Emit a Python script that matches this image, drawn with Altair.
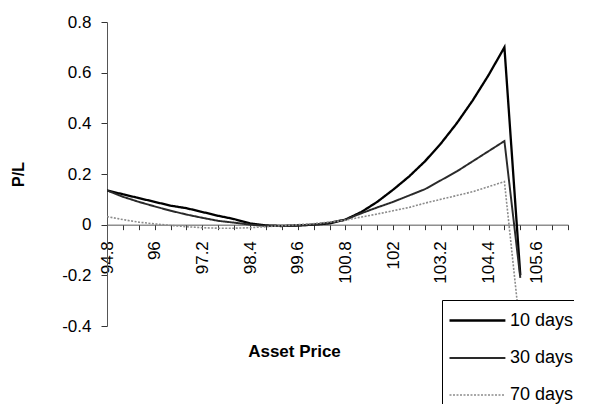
import altair as alt
import pandas as pd

prices = [94.8, 95.2, 95.6, 96.0, 96.4, 96.8, 97.2, 97.6, 98.0, 98.4, 98.8, 99.2, 99.6,
          100.0, 100.4, 100.8, 101.2, 101.6, 102.0, 102.4, 102.8, 103.2, 103.6, 104.0,
          104.4, 104.8, 105.2]

pl_10 = [0.135, 0.12, 0.105, 0.09, 0.075, 0.065, 0.05, 0.035, 0.022, 0.005, -0.003, -0.005,
         -0.003, 0.0, 0.005, 0.02, 0.05, 0.09, 0.138, 0.19, 0.25, 0.32, 0.40, 0.49, 0.59,
         0.70, -0.2]
pl_30 = [0.135, 0.11, 0.09, 0.072, 0.055, 0.04, 0.027, 0.015, 0.008, 0.0, -0.005, -0.006,
         -0.004, 0.0, 0.008, 0.02, 0.045, 0.068, 0.09, 0.115, 0.14, 0.175, 0.21, 0.25, 0.29,
         0.33, -0.21]
pl_70 = [0.032, 0.02, 0.01, 0.003, -0.003, -0.008, -0.012, -0.014, -0.014, -0.012, -0.008,
         -0.004, 0.0, 0.004, 0.01, 0.018, 0.03, 0.042, 0.055, 0.068, 0.085, 0.1, 0.115, 0.13,
         0.15, 0.17, -0.42]

series = ["10 days", "30 days", "70 days"]
x_ticks = [round(94.8 + 0.4 * i, 1) for i in range(30)]
y_ticks = [-0.4, -0.2, 0, 0.2, 0.4, 0.6, 0.8]

rows = []
for name, vals in zip(series, [pl_10, pl_30, pl_70]):
    for p, v in zip(prices, vals):
        rows.append({"price": p, "pl": v, "series": name})
df = pd.DataFrame(rows)

FONT = "Liberation Sans"

chart = alt.Chart(df).mark_line(clip=True).encode(
    x=alt.X("price:Q",
            scale=alt.Scale(domain=[94.8, 106.4], nice=False, zero=False),
            axis=alt.Axis(values=x_ticks, format=".1~f",
                          labelExpr="round(datum.value*10) % 12 == 0 ? datum.label : ''",
                          labelAngle=-90, labelOverlap=False, labelPadding=11,
                          labelFontSize=17, labelFont=FONT, labelColor="#000",
                          tickSize=5, tickColor="#333", domainColor="#555",
                          grid=False, offset=-101.33,
                          title="Asset Price", titleFont=FONT, titleFontSize=17,
                          titleFontWeight="bold", titleColor="#000",
                          titleX=187, titleY=127, titleAlign="center",
                          titleBaseline="middle", titleAnchor="start")),
    y=alt.Y("pl:Q",
            scale=alt.Scale(domain=[-0.4, 0.8], nice=False, zero=False),
            axis=alt.Axis(values=y_ticks,
                          labelExpr="datum.value == 0 ? '0' : replace(format(datum.value, '.1f'), '\u2212', '-')",
                          labelFontSize=17, labelFont=FONT, labelColor="#000",
                          labelPadding=10, tickSize=6, tickColor="#333",
                          domainColor="#555", grid=False,
                          title="P/L", titleFont=FONT, titleFontSize=16,
                          titleFontWeight="bold", titleColor="#000",
                          titleX=-89, titleY=152, titleAlign="center",
                          titleBaseline="middle", titleAnchor="start")),
    color=alt.Color("series:N",
                    scale=alt.Scale(domain=series, range=["#000000", "#2a2a2a", "#8c8c8c"]),
                    legend=alt.Legend(title=None, orient="none", legendX=335, legendY=278,
                                      fillColor="white", strokeColor="#000", padding=6,
                                      symbolType="M-1,0L3.3,0", symbolSize=676,
                                      labelFont=FONT, labelFontSize=18, labelColor="#000",
                                      labelOffset=33, rowPadding=14, cornerRadius=0)),
    strokeWidth=alt.StrokeWidth("series:N",
                                scale=alt.Scale(domain=series, range=[2.3, 1.6, 1.2]),
                                legend=None),
    strokeDash=alt.StrokeDash("series:N",
                              scale=alt.Scale(domain=series, range=[[1, 0], [1, 0], [2, 1.5]]),
                              legend=None),
).properties(
    width=461, height=304,
    autosize=alt.AutoSizeParams(type="none"),
    padding={"left": 99, "top": 14, "right": 6, "bottom": 78},
).configure_view(stroke=None)

chart.save("out.html", embed_options={"renderer": "svg", "actions": False})
